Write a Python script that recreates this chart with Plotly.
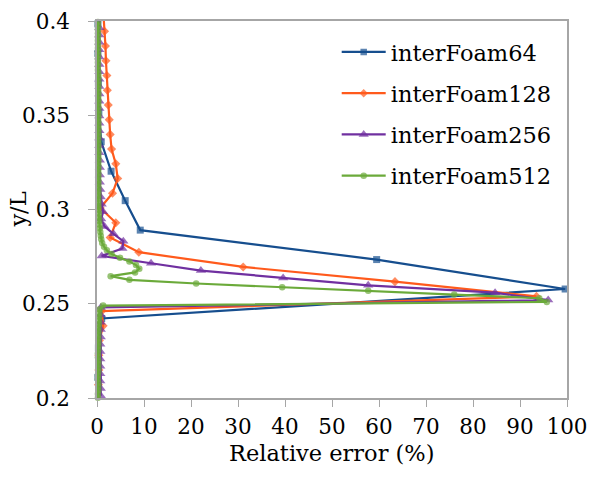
import plotly.graph_objects as go

# ---------------- data ----------------
y_64 = [0.195313, 0.210938, 0.226563, 0.242188, 0.257813, 0.273438, 0.289063,
        0.304688, 0.320313, 0.335938, 0.351563, 0.367188, 0.382813, 0.398438]
err_64 = [0.2, 0.2, 0.3, 1.0, 99.6, 59.5, 9.2, 6.0, 3.0, 0.9, 0.4, 0.3, 0.2, 0.2]

y_128 = [0.199219, 0.207031, 0.214844, 0.222656, 0.230469, 0.238281, 0.246094,
         0.253906, 0.261719, 0.269531, 0.277344, 0.285156, 0.292969, 0.300781,
         0.308594, 0.316406, 0.324219, 0.332031, 0.339844, 0.347656, 0.355469,
         0.363281, 0.371094, 0.378906, 0.386719, 0.394531, 0.402344]
err_128 = [0.3, 0.3, 0.4, 0.4, 0.5, 1.3, 1.0, 93.5, 63.4, 31.1, 8.9, 2.8, 4.0, 0.7,
           3.3, 4.4, 4.0, 3.1, 2.8, 2.6, 2.4, 2.2, 2.1, 1.9, 1.8, 1.6, 1.4]

y_256 = [0.201172, 0.205078, 0.208984, 0.212891, 0.216797, 0.220703, 0.224609,
         0.228516, 0.232422, 0.236328, 0.240234, 0.244141, 0.248047, 0.251953,
         0.255859, 0.259766, 0.263672, 0.267578, 0.271484, 0.275391, 0.279297,
         0.283203, 0.287109, 0.291016, 0.294922, 0.298828, 0.302734, 0.306641,
         0.310547, 0.314453, 0.318359, 0.322266, 0.326172, 0.330078, 0.333984,
         0.337891, 0.341797, 0.345703, 0.349609, 0.353516, 0.357422, 0.361328,
         0.365234, 0.369141, 0.373047, 0.376953, 0.380859, 0.384766, 0.388672,
         0.392578, 0.396484, 0.400391]
err_256 = [0.8, 0.8, 0.7, 0.7, 0.7, 0.7, 0.7, 0.7, 0.8, 0.8, 0.8, 0.8, 0.8,
           96.0, 84.7, 57.7, 39.6, 22.1, 11.5, 1.0, 5.4, 5.6, 3.5, 1.6, 0.9, 1.3,
           1.0, 0.8, 0.7,
           0.6, 0.6, 0.6, 0.6, 0.5, 0.5, 0.5, 0.5, 0.5, 0.5, 0.5, 0.5, 0.5, 0.5,
           0.5, 0.5, 0.5, 0.5, 0.5, 0.5, 0.5, 0.5, 0.5]

y_512 = [0.200195, 0.202148, 0.204102, 0.206055, 0.208008, 0.209961, 0.211914,
         0.213867, 0.215820, 0.217773, 0.219727, 0.221680, 0.223633, 0.225586,
         0.227539, 0.229492, 0.231445, 0.233398, 0.235352, 0.237305, 0.239258,
         0.241211, 0.243164, 0.245117, 0.247070, 0.249023, 0.250977, 0.252930,
         0.254883, 0.256836, 0.258789, 0.260742, 0.262695, 0.264648, 0.266602,
         0.268555, 0.270508, 0.272461, 0.274414, 0.276367, 0.278320, 0.280273,
         0.282227, 0.284180, 0.286133, 0.288086, 0.290039, 0.291992, 0.293945,
         0.295898, 0.297852, 0.299805, 0.301758, 0.303711, 0.305664, 0.307617,
         0.309570, 0.311523, 0.313477, 0.315430, 0.317383, 0.319336, 0.321289,
         0.323242, 0.325195, 0.327148, 0.329102, 0.331055, 0.333008, 0.334961,
         0.336914, 0.338867, 0.340820, 0.342773, 0.344727, 0.346680, 0.348633,
         0.350586, 0.352539, 0.354492, 0.356445, 0.358398, 0.360352, 0.362305,
         0.364258, 0.366211, 0.368164, 0.370117, 0.372070, 0.374023, 0.375977,
         0.377930, 0.379883, 0.381836, 0.383789, 0.385742, 0.387695, 0.389648,
         0.391602, 0.393555, 0.395508, 0.397461, 0.399414]
err_512 = [0.2, 0.2, 0.3, 0.3, 0.3, 0.2, 0.2, 0.3, 0.3, 0.3, 0.3, 0.2, 0.2, 0.3,
           0.3, 0.3, 0.3, 0.3, 0.3, 0.3, 0.4, 0.4, 0.5, 0.5, 0.6, 1.3,
           95.7, 94.1, 76.0, 57.7, 39.4, 21.1, 6.9, 2.9, 8.1, 9.0, 8.3, 6.9, 4.9,
           3.1, 2.1, 1.5, 1.1, 0.9, 0.8, 0.7, 0.6, 0.5, 0.5, 0.4, 0.4, 0.3,
           0.3, 0.3, 0.3, 0.3, 0.3, 0.3, 0.3, 0.3, 0.3, 0.3, 0.3, 0.3, 0.3, 0.3,
           0.3, 0.3, 0.3, 0.3, 0.3, 0.3, 0.3, 0.3, 0.3, 0.3, 0.3, 0.3, 0.3, 0.3,
           0.3, 0.3, 0.3, 0.3, 0.3, 0.3, 0.3, 0.3, 0.3, 0.2, 0.2, 0.2, 0.2, 0.2,
           0.2, 0.2, 0.2, 0.2, 0.2, 0.2, 0.2, 0.2, 0.2]

series_names = ["interFoam64", "interFoam128", "interFoam256", "interFoam512"]
x_ticks = [0, 10, 20, 30, 40, 50, 60, 70, 80, 90, 100]
y_ticks = [0.2, 0.25, 0.3, 0.35, 0.4]
y_tick_text = ["0.2", "0.25", "0.3", "0.35", "0.4"]

# ---------------- style ----------------
FONT = "DejaVu Serif"
colors = ["#164E8E", "#FF5A1C", "#7030A0", "#6BAA3A"]
symbols = ["square", "diamond", "triangle-up", "circle"]
msizes = [7, 7, 9, 6.5]
Y_MIN, Y_MAX = 0.2, 0.4

fig = go.Figure()
for name, xs, ys, col, sym, ms in zip(series_names,
                                      [err_64, err_128, err_256, err_512],
                                      [y_64, y_128, y_256, y_512],
                                      colors, symbols, msizes):
    sizes = [ms if (Y_MIN - 0.0005) <= v <= (Y_MAX + 0.0005) else 0 for v in ys]
    fig.add_trace(go.Scatter(
        x=xs, y=ys, name=name, mode="lines+markers", legendgroup=name,
        line=dict(color=col, width=2.2),
        marker=dict(symbol=sym, size=sizes, color=col, line=dict(width=0)),
        cliponaxis=False,
    ))

axis_common = dict(
    showgrid=False, zeroline=False, showline=True, linecolor="#A6A6A6",
    linewidth=1.5, mirror=True, ticks="outside", ticklen=7, tickwidth=1.2,
    tickcolor="#A6A6A6", automargin=False,
    tickfont=dict(family=FONT, size=21.5, color="black"),
)

fig.update_xaxes(range=[0, 100], tickvals=x_ticks, ticklabelstandoff=1,
                 **axis_common)
fig.update_yaxes(range=[Y_MIN, Y_MAX], tickvals=y_ticks, ticktext=y_tick_text,
                 ticklabelstandoff=14, **axis_common)

fig.add_annotation(text="Relative error (%)", xref="paper", yref="paper",
                   x=0.5, y=-0.146, xanchor="center", yanchor="middle",
                   showarrow=False, font=dict(family=FONT, size=22.5, color="black"))
fig.add_annotation(text="y/L", xref="paper", yref="paper", textangle=-90,
                   x=-0.17, y=0.5, xanchor="center", yanchor="middle",
                   showarrow=False, font=dict(family=FONT, size=22.5, color="black"))

fig.update_layout(
    width=590, height=479,
    margin=dict(l=97, r=23, t=21, b=81),
    paper_bgcolor="white", plot_bgcolor="white",
    font=dict(family=FONT, color="black"),
    showlegend=True,
    legend=dict(x=0.51, y=0.974, xanchor="left", yanchor="top",
                bgcolor="rgba(0,0,0,0)", tracegroupgap=9, itemwidth=44,
                font=dict(family=FONT, size=22.5, color="black")),
)

fig.write_html("out.html", config={"displayModeBar": False},
               post_script="document.body.style.margin='0';")
